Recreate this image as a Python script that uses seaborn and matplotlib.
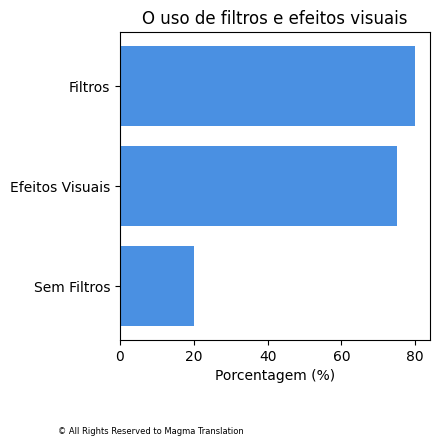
import seaborn as sns
import pandas as pd
import matplotlib.pyplot as plt

categorias = ["Filtros", "Efeitos Visuais", "Sem Filtros"]
porcentagens = [80, 75, 20]

df = pd.DataFrame({"categoria": categorias, "porcentagem": porcentagens})

fig, ax = plt.subplots(figsize=(4.39, 4.47), dpi=100)
sns.barplot(data=df, x="porcentagem", y="categoria", color="#4A90E2",
            saturation=1, width=0.8, ax=ax)
ax.set_title("O uso de filtros e efeitos visuais", fontsize=12)
ax.set_xlabel("Porcentagem (%)", fontsize=10)
ax.set_ylabel("")
ax.set_xlim(0, 84)
ax.set_ylim(2.54, -0.54)
ax.set_xticks([0, 20, 40, 60, 80])
fig.subplots_adjust(left=0.2733, right=0.9795, top=0.928, bottom=0.239)
fig.text(0.132, 0.028, "© All Rights Reserved to Magma Translation", fontsize=6)
plt.savefig("out.png", dpi=100, facecolor="w")
